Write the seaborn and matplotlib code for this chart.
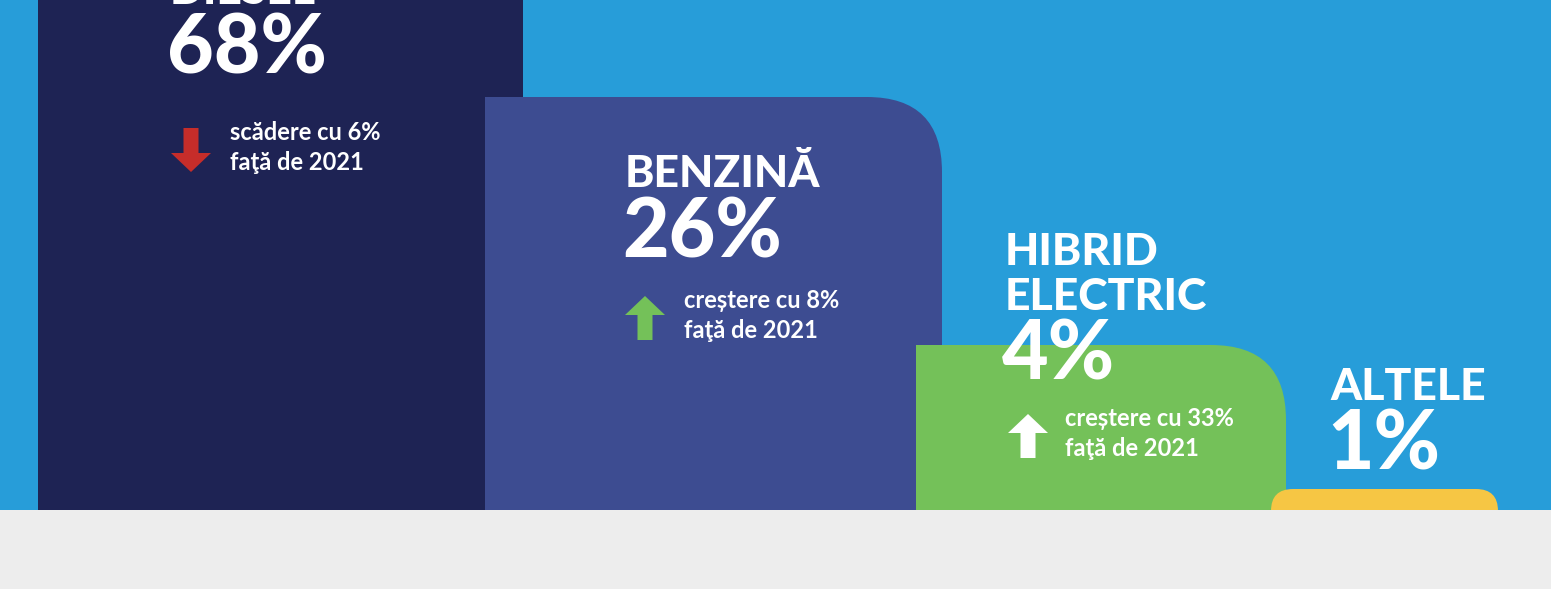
import matplotlib.pyplot as plt
import seaborn as sns
from matplotlib.patches import FancyBboxPatch

# Date: cota de piata pe tip de combustibil
categories = ["DIESEL", "BENZINĂ", "HIBRID\nELECTRIC", "ALTELE"]
shares = [68, 26, 4, 1]
changes = [-6, 8, 33, None]
ref_year = 2021
# inaltimea vizuala a barelor (grafic de design, nu proportional)
bar_heights = [640, 413, 165, 21]

# Culori
colors = ["#1E2354", "#3D4C91", "#74C159", "#F6C644"]
arrow_colors = ["#C62D2A", "#74C159", "white", None]
bg_blue = "#279DD9"
bg_gray = "#EDEDED"

# Asezare (coordonate in pixeli, y masurat de sus)
W, H, BASE = 1551, 589, 510
bar_left = [38, 485, 916, 1271]
bar_width = [485, 457, 370, 227]
radius_right = [0, 75, 75, 22]
radius_left = [0, 0, 0, 22]
label_x = [170, 625, 1005, 1330]
head_base = [4, 187, 265, 400]
pct_base = [73, 257, 380, 469]
note_base = [140, 308, 426, None]
arrow_x = [191, 645, 1028, None]
note_x = [230, 684, 1065, None]

sns.set_theme(style="white")
plt.rcParams["font.family"] = ["Lato", "DejaVu Sans"]

fig = plt.figure(figsize=(W / 100, H / 100), dpi=100, facecolor=bg_gray)
ax = fig.add_axes([0, 0, 1, 1])
ax.set_facecolor(bg_gray)

sns.barplot(x=categories, y=bar_heights, hue=categories, palette=colors,
            saturation=1, legend=False, errorbar=None, ax=ax, zorder=2)

# latimi si pozitii diferite, colturi rotunjite
for i, patch in enumerate(ax.patches):
    patch.set_x(bar_left[i])
    patch.set_width(bar_width[i])
    patch.set_edgecolor("none")
    r = max(radius_right[i], radius_left[i])
    if r > 0:
        pad_l = 0 if radius_left[i] else 3 * r
        clip = FancyBboxPatch((bar_left[i] - pad_l, -300),
                              bar_width[i] + pad_l, bar_heights[i] + 300,
                              boxstyle=f"round,pad=0,rounding_size={r}",
                              transform=ax.transData)
        patch.set_clip_path(clip)

ax.axhspan(0, BASE + 50, color=bg_blue, zorder=0, lw=0)
ax.set_xlim(0, W)
ax.set_ylim(BASE - H, BASE)
ax.axis("off")


def y(py):
    return BASE - py


for i in range(len(categories)):
    lines = categories[i].split("\n")
    for k, line in enumerate(lines):
        ax.text(label_x[i], y(head_base[i] + 45 * k), line, color="white",
                fontsize=32, fontweight="black", va="baseline", ha="left", zorder=5)
    ax.text(label_x[i] - 3, y(pct_base[i]), f"{shares[i]}%", color="white",
            fontsize=58, fontweight="black", va="baseline", ha="left", zorder=5)
    if changes[i] is not None:
        nb = note_base[i]
        word = "scădere" if changes[i] < 0 else "creștere"
        note = [f"{word} cu {abs(changes[i])}%", f"faţă de {ref_year}"]
        for k, line in enumerate(note):
            ax.text(note_x[i], y(nb + 30 * k), line, color="white", fontsize=17,
                    fontweight="bold", va="baseline", ha="left", zorder=5)
        if changes[i] < 0:
            y0, dy = y(nb - 12), -44
        else:
            y0, dy = y(nb + 32), 44
        ax.arrow(arrow_x[i], y0, 0, dy, width=15, head_width=40, head_length=19,
                 length_includes_head=True, color=arrow_colors[i], lw=0, zorder=5)

fig.savefig("out.png", dpi=100, facecolor=bg_gray)
